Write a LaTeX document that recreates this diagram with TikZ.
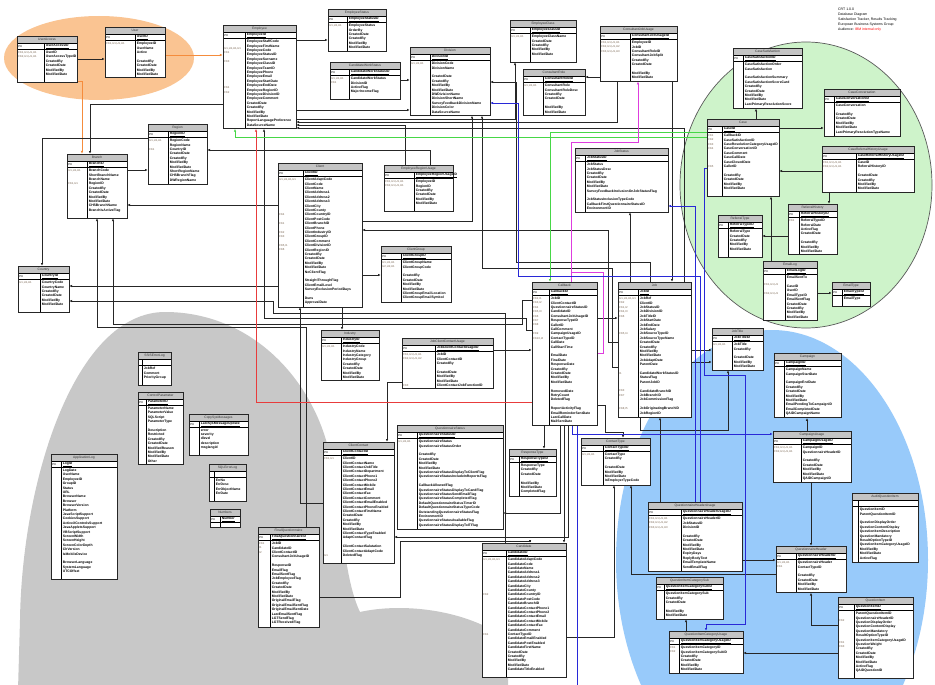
\documentclass[tikz,border=0pt]{standalone}
\usepackage{fontspec}
\setmainfont{Liberation Sans}
\usetikzlibrary{arrows.meta,fit}
\pgfdeclarelayer{blob}
\pgfdeclarelayer{wires}
\pgfdeclarelayer{tblbg}
\pgfsetlayers{blob,wires,tblbg,main}
\definecolor{orangeblob}{RGB}{250,196,146}
\definecolor{greenblob}{RGB}{206,243,202}
\definecolor{grayblob}{RGB}{200,200,200}
\definecolor{blueblob}{RGB}{152,202,250}
\definecolor{titlegray}{RGB}{196,196,196}
\definecolor{keycol}{RGB}{120,100,80}
\definecolor{wireblue}{RGB}{40,40,215}
\definecolor{wiregreen}{RGB}{70,215,70}
\definecolor{wirered}{RGB}{232,60,60}
\definecolor{wiremag}{RGB}{222,60,222}
\definecolor{wireorange}{RGB}{245,140,60}
\tikzset{
 fld/.style={anchor=north west, inner sep=0pt, align=left, font=\fontsize{3.4}{4.4}\selectfont\bfseries},
 kys/.style={anchor=north west, inner sep=0pt, align=left, text=keycol, font=\fontsize{2.8}{4.4}\selectfont},
 ttl/.style={inner sep=0pt, text=black!80, font=\fontsize{3.3}{4}\selectfont},
 pkl/.style={anchor=west, inner sep=0pt, font=\fontsize{2.8}{3}\selectfont},
 pkn/.style={anchor=west, inner sep=0pt, font=\fontsize{3.4}{4}\selectfont\bfseries},
 tblline/.style={line width=0.8pt, draw=black!85},
 fk/.style={line width=0.55pt, draw=black!85, -{Latex[length=2.8pt,width=2.4pt]}},
 fko/.style={fk, draw=wireorange, line width=0.8pt, -{Latex[length=3pt,width=2.6pt]}},
 fkg/.style={fk, draw=wiregreen, line width=0.8pt},
 fkr/.style={fk, draw=wirered, line width=0.7pt},
 fkb/.style={fk, draw=wireblue, line width=0.7pt},
 fkm/.style={fk, draw=wiremag, line width=0.7pt},
}
% #1 name, #2 x, #3 y, #4 width, #5 key column width, #6 title, #7 pk, #8 keys, #9 fields
\newcommand{\erbox}[9]{%
 \coordinate (#1-nw) at (#2,#3);
 \coordinate (#1-ne) at ({#2+#4},#3);
 \coordinate (#1-kx) at ({#2+#5},#3);
 \node[fld] (#1-f) at ({#2+#5+1.6},{#3+15}) {#9};
 \coordinate (#1-se) at ([yshift=-2.2pt]#1-f.south -| #1-ne);
 \coordinate (#1-sw) at (#1-se -| #1-nw);
 \begin{pgfonlayer}{tblbg}
  \fill[white] (#1-nw) rectangle (#1-se);
  \fill[titlegray] (#1-nw) rectangle ({#2+#4},{#3+7});
 \end{pgfonlayer}
 \draw[line width=0.5pt] (#2,{#3+7}) -- ({#2+#4},{#3+7});
 \draw[line width=0.9pt] (#2,{#3+13.5}) -- ({#2+#4},{#3+13.5});
 \draw[line width=0.5pt] ({#2+#5},{#3+7}) -- (#1-sw -| #1-kx);
 \draw[tblline] (#1-nw) rectangle (#1-se);
 \node[ttl] at ({#2+#4/2},{#3+3.6}) {#6};
 \if\relax\detokenize{#7}\relax\else
  \node[pkl] at ({#2+1.2},{#3+10.4}) {PK};
  \node[pkn] at ({#2+#5+1.6},{#3+10.4}) {\underline{#7}};
 \fi
 \node[kys] at ({#2+1.2},{#3+15.3}) {#8};
 \node[fit=(#1-nw)(#1-se), inner sep=0pt] (#1) {};
}
\begin{document}
\begin{tikzpicture}[x=1pt,y=-1pt]
\useasboundingbox (0,0) rectangle (935,685);
\begin{pgfonlayer}{blob}
 \fill[white] (0,0) rectangle (935,685);
 \fill[grayblob] (18,690) -- (20,620) .. controls (22,480) and (75,312) .. (165,312) .. controls (245,312) and (305,370) .. (326,440) .. controls (342,500) and (342,575) .. (360,612) .. controls (400,603) and (465,608) .. (508,640) -- (508,690) -- cycle;
 \fill[blueblob] (772,560) ellipse [x radius=156pt, y radius=230pt];
 \filldraw[fill=greenblob, draw=black!65, line width=0.7pt] (806,185) ellipse [x radius=126pt, y radius=143pt];
 \fill[orangeblob] (99,58) ellipse [x radius=95pt, y radius=42pt];
\end{pgfonlayer}

\node[anchor=north west, align=left, inner sep=0pt, font=\fontsize{3.5}{5}\selectfont] (info) at (838,8) {CRT 1.0.0\\Database Diagram\\Satisfaction Tracker, Results Tracking\\European Business Systems Group\\Audience: \textcolor{red}{IBM internal only}};

% ---------------- tables ----------------
\erbox{ua}{17}{36}{60}{27}{UserAccess}{UserAccessID}{FK1,U1,U1,U1\\FK2,U1,U1,U1}{UserID\\UserAccessTypeID\\CreatedBy\\CreatedDate\\ModifiedBy\\ModifiedDate\\~}
\erbox{user}{105}{27}{60}{30}{User}{UserID}{FK1,U1,U1,U1}{EmployeeID\\UserName\\Active\\~\\CreatedBy\\CreatedDate\\ModifiedBy\\ModifiedDate}
\erbox{emp}{223}{25}{73}{22}{Employee}{EmployeeID}{~\\~\\U1,U1,U1,U1\\FK1\\~\\FK3\\~\\~\\~\\~\\~\\FK4\\FK2}{EmployeeStaffCode\\EmployeeFirstName\\EmployeeCode\\EmployeeStatusID\\EmployeeSurname\\EmployeeClassID\\EmployeeTeamID\\EmployeePhone\\EmployeeEmail\\EmployeeStartDate\\EmployeeEndDate\\EmployeeRegionID\\EmployeeDivisionID\\EmployeeComment\\CreatedDate\\CreatedBy\\ModifiedBy\\ModifiedDate\\ReportLanguagePreference\\DataSourceName}
\erbox{es}{328}{9}{58}{19}{EmployeeStatus}{EmployeeStatusID}{U1,U1,U1}{EmployeeStatus\\OrderBy\\CreatedDate\\CreatedBy\\ModifiedBy\\ModifiedDate}
\erbox{cws}{330}{62}{70}{19}{CandidateWorkStatus}{CandidateWorkStatusID}{U1,U1,U1\\FK1}{CandidateWorkStatus\\DivisionID\\ActiveFlag\\MajorIncomeFlag\\~}
\erbox{div}{410}{47}{80}{20}{Division}{DivisionID}{U1,U1,U1}{DivisionCode\\DivisionName\\~\\CreatedDate\\CreatedBy\\ModifiedBy\\ModifiedDate\\DWDivisionName\\DivisionShortName\\SurveyFeedbackDivisionName\\DivisionColor\\DataSourceName}
\erbox{ec}{510}{20}{66}{20}{EmployeeClass}{EmployeeClassID}{U1,U1,U1}{EmployeeClassName\\CreatedDate\\CreatedBy\\ModifiedBy\\ModifiedDate\\~}
\erbox{cr}{523}{69}{62}{20}{ConsultantRole}{ConsultantRoleID}{U1,U1,U1}{ConsultantRole\\ConsultantRoleDesc\\CreatedBy\\CreatedDate\\~\\ModifiedBy\\ModifiedDate}
\erbox{cju}{600}{26}{77}{30}{ConsultantJobUsage}{ConsultantJobUsageID}{FK1,U1,U1,U1\\FK2,U1,U1,U2\\FK3,U1,U1,U3}{EmployeeID\\JobID\\ConsultantRoleID\\ConsultantJobSplit\\CreatedBy\\CreatedDate\\~\\ModifiedBy\\ModifiedDate}
\erbox{reg}{148}{124}{59}{20}{Region}{RegionID}{U1,U1,U1\\~\\FK1}{RegionCode\\RegionName\\CountryID\\CreatedDate\\CreatedBy\\ModifiedBy\\ModifiedDate\\ShortRegionName\\CHSBranchFlag\\DWRegionName}
\erbox{br}{67}{154}{60}{20}{Branch}{BranchID}{U1,U1,U1\\~\\~\\FK1,U1}{BranchCode\\ShortBranchName\\BranchName\\RegionID\\CreatedBy\\CreatedDate\\ModifiedBy\\ModifiedDate\\CHSBranchName\\BranchIsActiveFlag\\~}
\erbox{cty}{18}{266}{51}{22}{Country}{CountryID}{U1,U1,U1}{CountryCode\\CountryName\\CreatedBy\\CreatedDate\\ModifiedBy\\ModifiedDate\\~}
\erbox{cl}{278}{163}{84}{25}{Client}{ClientID}{U1,U1,U1,U1\\~\\~\\~\\~\\~\\~\\~\\FK4\\~\\FK1\\~\\FK2\\FK3\\~\\FK5,I1\\FK6}{ClientAdaptCode\\ClientCode\\ClientName\\ClientAddress1\\ClientAddress2\\ClientAddress3\\ClientCity\\ClientCounty\\ClientCountryID\\ClientPostCode\\ClientBranchID\\ClientPhone\\ClientIndustryID\\ClientGroupID\\ClientComment\\ClientDivisionID\\ClientRegionID\\CreatedBy\\CreatedDate\\ModifiedBy\\ModifiedDate\\NoClientFlag\\~\\StraightThroughFlag\\ClientEmailLevel\\SurveyExclusionPeriodDays\\~\\Duns\\ApprovalDate}
\erbox{eru}{384}{165}{69}{30}{EmployeeRegionUsage}{EmployeeRegionUsageID}{FK1,U1,U1,U1\\FK2,U1,U1,U1}{EmployeeID\\RegionID\\CreatedBy\\CreatedDate\\ModifiedBy\\ModifiedDate\\~}
\erbox{cg}{381}{246}{70}{20}{ClientGroup}{ClientGroupID}{U1,U1,U1\\U2,U2,U1}{ClientGroupName\\ClientGroupCode\\~\\CreatedBy\\CreatedDate\\ModifiedBy\\ModifiedDate\\ClientGroupEmailLocation\\ClientGroupEmailSymbol}
\erbox{jst}{575}{148}{93}{10}{JobStatus}{JobStatusID}{}{JobStatus\\JobStatusDesc\\CreatedBy\\CreatedDate\\ModifiedBy\\ModifiedDate\\SurveyFeedbackInclusionOnJobStatusFlag\\~\\JobStatusInclusionTypeCode\\CallbackFirstQuestionnaireStatusID\\EnvironmentID}
\erbox{case}{707}{119}{72}{15}{Case}{CaseID}{FK1\\FK2\\FK3\\FK4\\~\\~\\~\\FK5}{CallbackID\\CaseSatisfactionID\\CaseResolutionCategoryUsageID\\CaseConversationID\\CaseComment\\CaseCallDate\\CaseClosedDate\\CallerID\\~\\CreatedBy\\CreatedDate\\ModifiedBy\\ModifiedDate\\~}
\erbox{csat}{733}{48}{69}{10}{CaseSatisfaction}{CaseSatisfactionID}{}{CaseSatisfactionOrder\\CaseSatisfaction\\~\\CaseSatisfactionSummary\\CaseSatisfactionScoreCard\\CreatedBy\\CreatedDate\\ModifiedBy\\ModifiedDate\\LastPrimaryResolutionScore}
\erbox{cconv}{824}{89}{76}{10}{CaseConversation}{CaseConversationID}{}{CaseConversation\\~\\CreatedBy\\CreatedDate\\ModifiedBy\\ModifiedDate\\LastPrimaryResolutionTypeName}
\erbox{cehu}{822}{146}{92}{34}{CaseReferralHistoryUsage}{CaseReferralHistoryUsageID}{FK1,U1,U1,U1\\FK2,U1,U1,U1}{CaseID\\ReferralHistoryID\\~\\CreatedDate\\CreatedBy\\ModifiedBy\\ModifiedDate}
\erbox{rh}{788}{204}{49}{11}{ReferralHistory}{ReferralHistoryID}{FK1}{ReferralTypeID\\ReferralDate\\ActiveFlag\\CreatedDate\\~\\CreatedBy\\ModifiedBy\\ModifiedDate}
\erbox{rt}{718}{215}{44}{10}{ReferralType}{ReferralTypeID}{}{ReferralType\\CreatedDate\\CreatedBy\\ModifiedBy\\ModifiedDate\\~}
\erbox{el}{763}{261}{54}{22}{EmailLog}{EmailLogID}{~\\~\\FK1,U1,U1\\~\\FK2,U1,U1}{EmailSentTo\\~\\CaseID\\UserID\\EmailTypeID\\EmailSentFlag\\CreatedDate\\CreatedBy\\ModifiedBy\\ModifiedDate}
\erbox{et}{832}{282}{38}{10}{EmailType}{EmailTypeID}{}{EmailType\\~}
\erbox{cb}{532}{282}{65}{17}{Callback}{CallbackID}{FK2,I1\\FK3,I2\\FK4\\FK5,I3\\FK6\\FK7\\FK8\\~\\FK9\\FK10,I4}{JobID\\ClientContactID\\QuestionnaireStatusID\\CandidateID\\ConsultantJobUsageID\\ResponseTypeID\\CallerID\\CallComment\\CampaignUsageID\\ContactTypeID\\CallDate\\CallStartTime\\~\\EmailDate\\FinalDate\\ResponseDate\\CreatedBy\\CreatedDate\\ModifiedBy\\ModifiedDate\\~\\RemovedDate\\RetryCount\\DeletedFlag\\~\\ReportActivityFlag\\EmailReminderSentDate\\LastCallDate\\MailSentDate}
\erbox{job}{618}{282}{73}{20}{Job}{JobID}{U1,U1,U1,U1\\FK2\\FK1,I2\\FK4,I3\\FK6\\~\\~\\~\\FK5,I4\\~\\~\\~\\~\\~\\~\\~\\~\\I1\\~\\~\\~\\FK3\\FK7\\~\\~\\FK8,I5}{JobRef\\ClientID\\JobStatusID\\JobDivisionID\\JobTitleID\\JobStartDate\\JobEndDate\\JobSalary\\JobSourceTypeID\\JobSourceTypeName\\CreatedDate\\CreatedBy\\ModifiedBy\\ModifiedDate\\JobAdaptDate\\ParentDate\\~\\CandidateWorkStatusID\\StatusFlag\\ParentJobID\\~\\CandidateBranchID\\JobBranchID\\JobCommissionFlag\\~\\JobOriginatingBranchID\\JobRegionID}
\erbox{jt}{712}{328}{51}{20}{JobTitle}{JobTitleID}{U1,U1,U1}{JobTitle\\CreatedBy\\~\\CreatedDate\\ModifiedBy\\ModifiedDate}
\erbox{camp}{774}{353}{67}{10}{Campaign}{CampaignID}{}{CampaignName\\CampaignStartDate\\~\\CampaignEndDate\\CreatedBy\\CreatedDate\\ModifiedBy\\ModifiedDate\\EmailPendingToCampaignID\\EmailCompletedDate\\QAIDCampaignName}
\erbox{cu}{773}{431}{78}{28}{CampaignUsage}{CampaignUsageID}{FK1,U1,U1,U1\\FK2,U1,U1,U1}{CampaignID\\QuestionnaireHeaderID\\~\\CreatedBy\\CreatedDate\\ModifiedBy\\ModifiedDate\\QAIDCampaignID}
\erbox{aqi}{852}{493}{66}{6}{AuditQuestionItem}{}{}{QuestionItemID\\ParentQuestionItemID\\~\\QuestionDisplayOrder\\QuestionContentDisplay\\QuestionItemDescription\\QuestionMandatory\\ResultOptionTypeID\\QuestionItemCategoryUsageID\\ModifiedBy\\ModifiedDate\\ActiveFlag}
\erbox{qh}{776}{546}{70}{20}{QuestionnaireHeader}{QuestionnaireHeaderID}{U1,U1,U1\\FK1}{QuestionnaireHeader\\ContactTypeID\\~\\CreatedBy\\CreatedDate\\ModifiedBy\\ModifiedDate}
\erbox{qi}{838}{597}{75}{16}{QuestionItem}{QuestionItemID}{~\\~\\FK2\\~\\~\\~\\~\\FK1\\FK3}{ParentQuestionItemID\\QuestionnaireHeaderID\\QuestionDisplayOrder\\QuestionContentDisplay\\QuestionMandatory\\ResultOptionTypeID\\QuestionItemCategoryUsageID\\QuestionWeight\\CreatedBy\\CreatedDate\\ModifiedBy\\ModifiedDate\\ActiveFlag\\QAIDQuestionID\\~}
\erbox{qhu}{648}{502}{94}{33}{QuestionnaireHeaderUsage}{QuestionnaireHeaderUsageID}{FK1,U1,U1,U1\\FK2,U1,U1,U2\\FK3,U1,U1,U3}{QuestionnaireHeaderID\\JobStatusID\\DivisionID\\~\\CreatedBy\\CreatedDate\\ModifiedBy\\ModifiedDate\\ExpiryDays\\ReplyBodyText\\EmailTemplateName\\SendEmailFlag}
\erbox{qics}{656}{577}{67}{8}{QuestionItemCategorySub}{QuestionItemCategorySubID}{}{QuestionItemCategorySub\\CreatedBy\\CreatedDate\\~\\ModifiedBy\\ModifiedDate}
\erbox{qicu}{669}{631}{74}{10}{QuestionItemCategoryUsage}{QuestionItemCategoryUsageID}{FK1\\FK2}{QuestionItemCategoryID\\QuestionItemCategorySubID\\CreatedBy\\CreatedDate\\ModifiedBy\\ModifiedDate}
\erbox{ct}{581}{438}{69}{22}{ContactType}{ContactTypeID}{U1,U1,U1}{ContactType\\CreatedBy\\~\\CreatedDate\\ModifiedBy\\ModifiedDate\\IsEmployerTypeCode}
\erbox{rspt}{509}{449}{47}{10}{ResponseType}{ResponseTypeID}{}{ResponseType\\CreatedBy\\CreatedDate\\~\\ModifiedBy\\ModifiedDate\\CompletedFlag}
\erbox{cand}{482}{543}{84}{24}{Candidate}{CandidateID}{U1,U1,U1,U1\\~\\~\\~\\~\\~\\~\\~\\FK2\\~\\~\\~\\~\\~\\~\\~\\~\\FK1}{CandidateAdaptCode\\CandidateCode\\CandidateName\\CandidateAddress1\\CandidateAddress2\\CandidateAddress3\\CandidateCity\\CandidateCounty\\CandidateCountryID\\CandidatePostCode\\CandidateBranchID\\CandidateContactPhone1\\CandidateContactPhone2\\CandidateContactEmail\\CandidateContactMobile\\CandidateContactFax\\CandidateComment\\ContactTypeID\\CandidateEmailEnabled\\CandidatePostEnabled\\CandidateFirstName\\CreatedDate\\CreatedBy\\ModifiedBy\\ModifiedDate\\CandidateTitleEnabled\\~}
\erbox{qs}{397}{425}{106}{20}{QuestionnaireStatus}{QuestionnaireStatusID}{U1,U1,U1}{QuestionnaireStatus\\QuestionnaireStatusOrder\\~\\CreatedBy\\CreatedDate\\ModifiedBy\\ModifiedDate\\QuestionnaireStatusDisplayToClientFlag\\QuestionnaireStatusIncludeInReportsFlag\\~\\CallbackAllowedFlag\\QuestionnaireStatusDisplayToCandFlag\\QuestionnaireStatusSendEmailFlag\\QuestionnaireStatusCompletedFlag\\DefaultQuestionnaireStatusTimerID\\DefaultQuestionnaireStatusTypeCode\\OutstandingQuestionnaireStatusFlag\\EnvironmentID\\QuestionnaireStatusAvailableFlag\\QuestionnaireStatusDisplayToITFlag}
\erbox{cc}{323}{442}{71}{18}{ClientContact}{ClientContactID}{FK1,U1\\~\\~\\~\\~\\~\\~\\~\\~\\~\\~\\~\\~\\~\\~\\~\\~\\~\\~\\~\\~\\~\\U1}{ClientID\\ClientContactName\\ClientContactJobTitle\\ClientContactDepartment\\ClientContactPhone1\\ClientContactPhone2\\ClientContactMobile\\ClientContactEmail\\ClientContactFax\\ClientContactComment\\ClientContactEmailEnabled\\ClientContactPhoneEnabled\\ClientContactFirstName\\CreatedDate\\CreatedBy\\ModifiedBy\\ModifiedDate\\ClientContactTypeEnabled\\AdaptContactFlag\\~\\ClientContactSalutation\\ClientContactAdaptCode\\DeletedFlag\\~}
\erbox{jccu}{402}{338}{91}{33}{JobClientContactUsage}{JobClientContactUsageID}{FK1,U1,U1,U1\\FK2,U1,U1,U2\\~\\~\\~\\~\\~\\FK3}{JobID\\ClientContactID\\CreatedBy\\~\\CreatedDate\\ModifiedBy\\ModifiedDate\\ClientContactJobFunctionID}
\erbox{ind}{321}{330}{58}{20}{Industry}{IndustryID}{U1,U1,U1}{IndustryCode\\IndustryName\\IndustryCategory\\IndustryGroup\\CreatedBy\\CreatedDate\\ModifiedBy\\ModifiedDate}
\erbox{fq}{258}{527}{61}{12}{FinalQuestionnaire}{FinalQuestionnaireID}{FK1\\I1\\I2}{JobID\\CandidateID\\ClientContactID\\ConsultantJobUsageID\\~\\ResponseID\\EmailFlag\\EmailSentFlag\\JobEmployeeFlag\\CreatedBy\\CreatedDate\\ModifiedBy\\ModifiedDate\\OriginalEmailFlag\\OriginalEmailSentFlag\\OriginalEmailSentDate\\LastEmailSentFlag\\LGTSendFlag\\LGTReceivedFlag}
\erbox{ssis}{138}{352}{33}{4}{SSISErrorLog}{}{}{JobRef\\Comment\\PriorityGroup\\~}
\erbox{cp}{138}{392}{45}{8}{ControlParameter}{ParameterID}{}{ParameterName\\ParameterValue\\SQLScript\\ParameterType\\~\\Description\\Restricted\\CreatedBy\\CreatedDate\\ModifiedReason\\ModifiedBy\\ModifiedDate\\Other}
\erbox{cpy}{189}{414}{59}{10}{CopySysMessages}{LastSysMessageUpdate}{}{error\\severity\\dlevel\\description\\msglangid\\~}
\erbox{sqlerr}{209}{464}{37}{5}{SQLErrorLog}{}{}{ErrNo\\ErrDesc\\ErrObjectName\\ErrDate\\~}
\erbox{num}{210}{509}{30}{10}{Numbers}{Number}{}{~}
\erbox{al}{51}{454}{66}{10}{ApplicationLog}{LogID}{}{LogDate\\UserName\\EmployeeID\\GroupID\\Status\\URL\\BrowserName\\Browser\\BrowserVersion\\Platform\\JavaScriptSupport\\CookiesSupport\\ActiveXControlsSupport\\JavaAppletsSupport\\VBScriptSupport\\ScreenWidth\\ScreenHeight\\ScreenColorDepth\\ClrVersion\\IsMobileDevice\\~\\BrowserLanguage\\SystemLanguage\\UTCOffset\\~}

\coordinate (bluefree) at (577,690);

% ---------------- connectors ----------------
\begin{pgfonlayer}{wires}
 % orange
 \draw[fko] (user.east |- 0,55) -- (emp.west |- 0,55);
 \draw[fko] (ua.east |- 0,81) -| (br.north -| 82,0);
 % black, top left
 \draw[fk] (ua.east |- 0,59) -- (user.west |- 0,59);
 \draw[fk] (emp.west |- 0,104) -| (br.north -| 90,0);
 \draw[fk] (reg.west |- 0,138) -| (cty.north -| 42,0);
 \draw[fk] (br.east |- 0,170) -- (reg.west |- 0,170);
 \draw[fk] (eru.north -| 430,0) |- (reg.east |- 0,150);
 \draw[fk] (eru.north -| 405,0) |- (emp.east |- 0,125);
 \draw[fk] (emp.east |- 0,110) -- (div.west |- 0,110);
 \draw[fk] (emp.east |- 0,40) -- (es.west |- 0,40);
 \draw[fk] (cws.east |- 0,80) -- (div.west |- 0,80);
 \draw[fk] (cju.west |- 0,77) -- (cr.east |- 0,77);
 \draw[fk] (cju.south -| 617,0) |- (emp.east |- 0,122);
 \draw[fk] (emp.east |- 0,119) -| (ec.south -| 515,0);
 \draw[fk] (cju.south -| 672,0) -- (job.north -| 672,0);
 \draw[fk] (job.north -| 684,0) |- (emp.east |- 0,128);
 \draw[fk] (job.north -| 630,0) -- (jst.south -| 630,0);
 \draw[fk] (job.north -| 650,0) |- (516,262) |- (div.east |- 0,82);
 % client area
 \draw[fk] (job.west |- 0,342) -| (608,230) -- (cl.east |- 0,230);
 \draw[fk] (job.west |- 0,367) -| (612,268) -| (div.south -| 482,0);
 \draw[fk] (cl.east |- 0,221) -| (div.south -| 472,0);
 \draw[fk] (cl.east |- 0,275) -- (cg.west |- 0,275);
 \draw[fk] (cl.south -| 342,0) -- (ind.north -| 342,0);
 \draw[fk] (cl.west |- 0,205) -- (br.east |- 0,205);
 \draw[fk] (cl.west |- 0,286) -- (cty.east |- 0,286);
 \draw[fk] (cand.north -| 505,0) |- (273,313) |- (cty.east |- 0,301);
 \draw[fk] (cb.west |- 0,330) -| (526,318) -| (emp.south -| 264,0);
 \draw[fk] (cb.west |- 0,300) -| (522,324) -| (br.south -| 113,0);
 \draw[fk] (fq.north -| 306,0) |- (97,327) -- (br.south -| 97,0);
 \draw[fk] (cc.west |- 0,503) -| (cl.south -| 300,0);
 \draw[fk] (jccu.west |- 0,382) -| (cc.north -| 387,0);
 \draw[fk] (jccu.east |- 0,350) -- (cb.west |- 0,350);
 % callback area
 \draw[fk] (cb.east |- 0,318) -- (job.west |- 0,318);
 \draw[fk] (cb.south -| 544,0) -- (rspt.north -| 544,0);
 \draw[fk] (cb.south -| 560,0) |- (qs.east |- 0,513);
 \draw[fk] (cb.south -| 568,0) |- (cc.east |- 0,537);
 \draw[fk] (cb.south -| 564,0) -- (cand.north -| 564,0);
 \draw[fk] (fq.east |- 0,597) -| (400,541) -| (cand.north -| 530,0);
 \draw[fk] (cand.east |- 0,637) -| (ct.south -| 614,0);
 \draw[fk] (job.south -| 640,0) |- (728,430) -- (jt.south -| 728,0);
 \draw[fk] (cb.east |- 0,405) -| (605,432) -| (ct.north -| 623,0);
 \draw[fk] (qhu.north -| 660,0) -- (job.south -| 660,0);
 \draw[fk] (job.east |- 0,350) -- (jt.west |- 0,350);
 \draw[fk] (job.east |- 0,362) -- (jt.west |- 0,362);
 % questionnaire area
 \draw[fk] (qh.west |- 0,574) -| (ct.south -| 631,0);
 \draw[fk] (qhu.east |- 0,560) -- (qh.west |- 0,560);
 \draw[fk] (cu.south -| 811,0) -- (qh.north -| 811,0);
 \draw[fk] (cu.north -| 807,0) -- (camp.south -| 807,0);
 \draw[fk] (qi.west |- 0,625) -| (qh.south -| 811,0);
 \draw[fk] (qicu.north -| 686,0) -- (qics.south -| 686,0);
 \draw[fk] (qi.west |- 0,653) -- (qicu.east |- 0,653);
 % case area
 \draw[fk] (case.north -| 756,0) -- (csat.south -| 756,0);
 \draw[fk] (case.east |- 0,128) -- (cconv.west |- 0,128);
 \draw[fk] (cehu.west |- 0,171) -- (case.east |- 0,171);
 \draw[fk] (cehu.south -| 829,0) -- (rh.north -| 829,0);
 \draw[fk] (rh.west |- 0,236) -- (rt.east |- 0,236);
 \draw[fk] (el.north -| 771,0) -- (case.south -| 771,0);
 \draw[fk] (el.east |- 0,293) -- (et.west |- 0,293);
 % coloured
 \draw[fkg] (case.west |- 0,137) -| (emp.south -| 235,0);
 \draw[fkg] (case.west |- 0,132) -| (cb.north -| 550,0);
 \draw[fkr] (cb.west |- 0,402) -| (emp.south -| 256,0);
 \draw[fkm] (cb.north -| 571,0) |- (638,142) -- (cju.south -| 638,0);
 \draw[draw=wiremag, line width=0.7pt] (cb.east |- 0,353) -| (603,272) -- (571,272);
 \draw[fkb] (qhu.north -| 700,0) |- (518,276) |- (div.east |- 0,103);
 \draw[fkb] (qhu.north -| 695,0) |- (jst.east |- 0,206);
 \draw[fkb] (case.west |- 0,168) -| (704,375) -| (745,624) -| (qicu.north -| 706,0);
 \draw[fkb] (cb.south -| 572,0) |- (cu.west |- 0,434);
 \draw[draw=wireblue, line width=0.7pt] (cb.south -| 577,0) -- (bluefree);
\end{pgfonlayer}
\end{tikzpicture}
\end{document}
